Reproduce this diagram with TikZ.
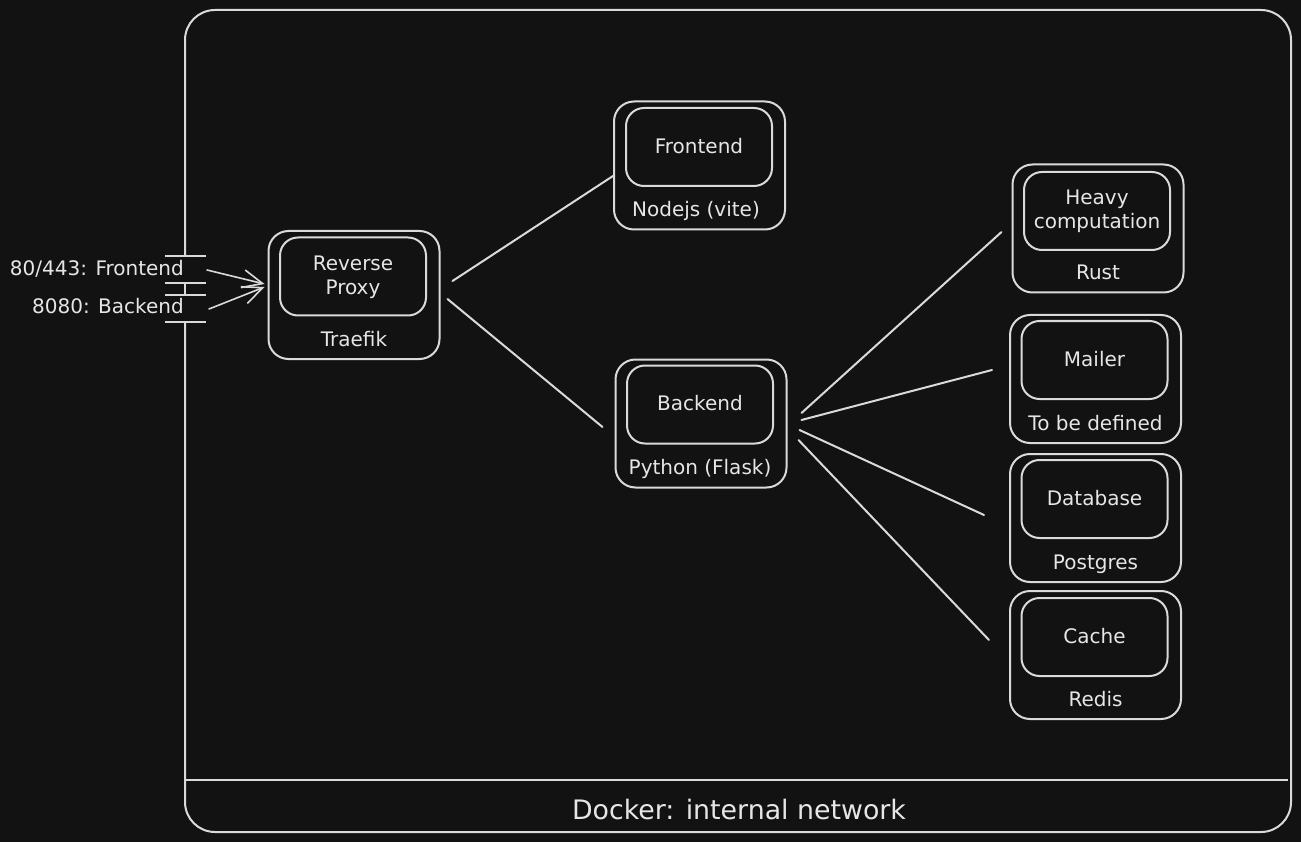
\documentclass[tikz,border=0pt]{standalone}
\usepackage{fontspec}
\setmainfont{DejaVu Sans}
\usetikzlibrary{arrows.meta,calc}
\definecolor{bg}{HTML}{121212}
\definecolor{fg}{HTML}{DADADA}
\definecolor{tx}{HTML}{E6E6E6}
\begin{document}
\begin{tikzpicture}[x=1pt,y=-1pt,
  outerbox/.style={draw=fg,line width=2pt,rounded corners=20pt,minimum width=171pt,minimum height=128pt,inner sep=0pt},
  innerbox/.style={draw=fg,line width=2pt,rounded corners=18pt,minimum width=146pt,minimum height=78pt,inner sep=0pt},
  lbl/.style={text=tx,font=\fontsize{20}{24}\selectfont,inner sep=0pt,align=center},
  conn/.style={draw=fg,line width=2pt,line cap=round},
  portline/.style={draw=fg,line width=2pt},
  inarrow/.style={draw=fg,line width=1.6pt,line cap=round,-{Straight Barb[length=20pt,width=18pt]}}]
\fill[bg] (0,0) rectangle (1301,842);
\useasboundingbox (0,0) rectangle (1301,842);
% container
\draw[portline,rounded corners=30pt] (185,256) -- (185,10) -- (1291,10) -- (1291,832) -- (185,832) -- (185,322);
\draw[portline] (185,283) -- (185,295);
\draw[portline] (185,780) -- (1288,780);
\foreach \yy in {256,283,295,322} \draw[portline] (165,\yy) -- (206,\yy);
\node[lbl,font=\fontsize{26.8}{30}\selectfont] (docker) at (739,810) {Docker: internal network};
% port labels
\node[lbl,anchor=base east] (l80) at (184,276) {80/443: Frontend};
\node[lbl,anchor=base east] (l8080) at (184,314) {8080: Backend};
% proxy
\node[outerbox] (proxy) at (354,295) {};
\node[innerbox] (proxyin) at (353,276.5) {};
\node[lbl] (proxyt) at (353,277.5) {Reverse\\Proxy};
\node[lbl,anchor=base] (proxys) at (354,346) {Traefik};
% frontend
\node[outerbox] (front) at (699.5,165.5) {};
\node[innerbox] (frontin) at (699,147) {};
\node[lbl,anchor=base] (frontt) at (699,153.5) {Frontend};
\node[lbl,anchor=base] (fronts) at (696,216.5) {Nodejs (vite)};
% backend
\node[outerbox] (back) at (701,423.5) {};
\node[innerbox] (backin) at (700,404.5) {};
\node[lbl,anchor=base] (backt) at (700,410.5) {Backend};
\node[lbl,anchor=base] (backs) at (700,474.5) {Python (Flask)};
% heavy
\node[outerbox] (heavy) at (1098,228.5) {};
\node[innerbox] (heavyin) at (1097,211) {};
\node[lbl] (heavyt) at (1097,211.5) {Heavy\\computation};
\node[lbl,anchor=base] (heavys) at (1098,279.5) {Rust};
% mailer
\node[outerbox] (mail) at (1095.5,379) {};
\node[innerbox] (mailin) at (1094.5,360) {};
\node[lbl,anchor=base] (mailt) at (1094.5,366) {Mailer};
\node[lbl,anchor=base] (mails) at (1095.5,430) {To be defined};
% database
\node[outerbox] (db) at (1095.5,518) {};
\node[innerbox] (dbin) at (1094.5,499) {};
\node[lbl,anchor=base] (dbt) at (1094.5,505) {Database};
\node[lbl,anchor=base] (dbs) at (1095.5,569) {Postgres};
% cache
\node[outerbox] (cache) at (1095.5,655) {};
\node[innerbox] (cachein) at (1094.5,637) {};
\node[lbl,anchor=base] (cachet) at (1094.5,643) {Cache};
\node[lbl,anchor=base] (caches) at (1095.5,706) {Redis};
% connectors
\draw[conn] ($(proxy.east)+(12,-14)$) -- ($(front.west)+(0,10.5)$);
\draw[conn] ($(proxy.east)+(7,4)$) -- ($(back.west)+(-12,3.5)$);
\draw[conn] ($(back.east)+(14,-10.5)$) -- ($(heavy.west)+(-10,3.5)$);
\draw[conn] ($(back.east)+(14,-3.5)$) -- ($(mail.west)+(-17,-9)$);
\draw[conn] ($(back.east)+(12,6.5)$) -- ($(db.west)+(-25,-3)$);
\draw[conn] ($(back.east)+(11,16.5)$) -- ($(cache.west)+(-20,-15)$);
% incoming arrows
\coordinate (p80) at (207,270);
\coordinate (p8080) at (209,309);
\draw[inarrow] (p80) -- ($(proxy.west)+(-3,-11)$);
\draw[inarrow] (p8080) -- ($(proxy.west)+(-3,-8)$);
\end{tikzpicture}
\end{document}
